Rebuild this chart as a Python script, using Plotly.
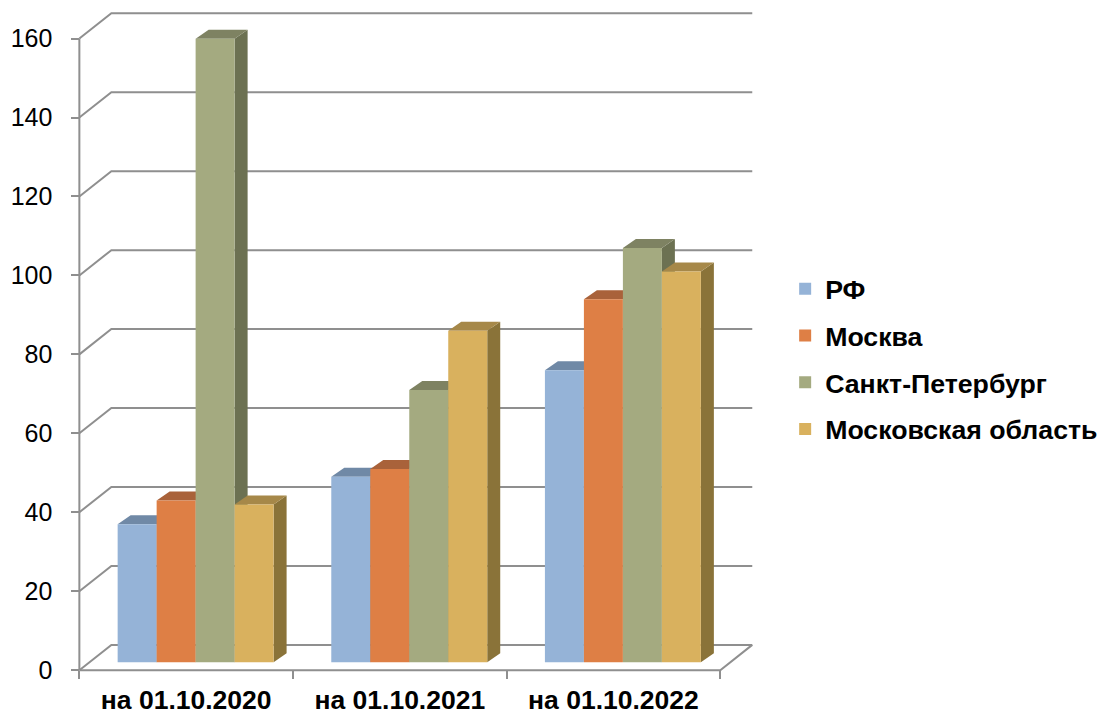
import plotly.graph_objects as go

# ---------------- data ----------------
categories = ["на 01.10.2020", "на 01.10.2021", "на 01.10.2022"]
series_names = ["РФ", "Москва", "Санкт-Петербург", "Московская область"]
rf = [35, 47, 74]
moscow = [41, 49, 92]
spb = [158, 69, 105]
mo = [40, 84, 99]
y_ticks = [0, 20, 40, 60, 80, 100, 120, 140, 160]

series_values = [rf, moscow, spb, mo]

# ---------------- styles ----------------
front_colors = ["#95B3D7", "#DE7F45", "#A4AA80", "#D9B15E"]
top_colors = ["#7089A6", "#A9623A", "#7E8262", "#A68849"]
side_colors = ["#5F7894", "#B5672F", "#6C7152", "#8A7339"]
GRID = "#8F8F8F"
FONT = "Liberation Sans, Arial, sans-serif"

W, H = 1099, 714
PX_X = 213.7      # pixels per category unit
PX_Y = 3.951      # pixels per value unit
X0_PX, Y0_PX = 79, 670.5   # screen position of front-left floor corner
WALL_DX, WALL_DY = 32 / PX_X, 25.3 / PX_Y   # depth of floor / side wall
BAR_DX, BAR_DY = 13 / PX_X, 9 / PX_Y        # depth of each bar
BAR_BASE = 7.8 / PX_Y                       # front plane of bars above floor front edge
BAR_LEFT, BAR_W = -0.3208, 0.1825           # bar front face placement within a category

XMIN, XMAX = -0.6, 2.7
YMIN, YMAX = -3, 168
ml = X0_PX - (-0.5 - XMIN) * PX_X
plot_w = (XMAX - XMIN) * PX_X
mr = W - ml - plot_w
plot_bottom = Y0_PX + (0 - YMIN) * PX_Y
mb = H - plot_bottom
plot_h = (YMAX - YMIN) * PX_Y
mt = H - mb - plot_h

n = len(categories)
xl, xr = -0.5, n - 0.5

fig = go.Figure()

# ---------------- walls / gridlines ----------------
wx, wy = [], []
for v in y_ticks:
    wx += [xl, xl + WALL_DX, xr + WALL_DX, None]
    wy += [v, v + WALL_DY, v + WALL_DY, None]
# floor front and right edges
wx += [xl, xr, xr + WALL_DX, None]
wy += [0, 0, WALL_DY, None]
# front vertical axis line
wx += [xl, xl]
wy += [0, y_ticks[-1]]
fig.add_trace(go.Scatter(x=wx, y=wy, mode="lines", line=dict(color=GRID, width=2),
                         hoverinfo="skip", showlegend=False, xaxis="x", yaxis="y"))

# ---------------- side / top faces (drawn under the front faces) ----------------
for i, vals in enumerate(series_values):
    sx, sy, tx, ty = [], [], [], []
    for k, v in enumerate(vals):
        x0 = k + BAR_LEFT + i * BAR_W
        x1 = x0 + BAR_W
        b = BAR_BASE
        t = BAR_BASE + v
        sx += [x1, x1 + BAR_DX, x1 + BAR_DX, x1, x1, None]
        sy += [b, b + BAR_DY, t + BAR_DY, t, b, None]
        tx += [x0, x0 + BAR_DX, x1 + BAR_DX, x1, x0, None]
        ty += [t, t + BAR_DY, t + BAR_DY, t, t, None]
    fig.add_trace(go.Scatter(x=sx, y=sy, mode="lines", fill="toself", fillcolor=side_colors[i],
                             line=dict(width=0), hoverinfo="skip", showlegend=False,
                             xaxis="x", yaxis="y"))
    fig.add_trace(go.Scatter(x=tx, y=ty, mode="lines", fill="toself", fillcolor=top_colors[i],
                             line=dict(width=0), hoverinfo="skip", showlegend=False,
                             xaxis="x", yaxis="y"))

# ---------------- front faces (real bars, on overlaying axes so they sit on top) ----------------
for i, (name, vals) in enumerate(zip(series_names, series_values)):
    fig.add_trace(go.Bar(
        x=list(range(n)), y=vals, base=BAR_BASE,
        offset=BAR_LEFT + i * BAR_W, width=BAR_W,
        name=name, marker=dict(color=front_colors[i], line=dict(width=0)),
        legendgroup=name, xaxis="x2", yaxis="y2",
    ))

legend_left_px = 785
legend_mid_px = 359
fig.update_layout(
    width=W, height=H,
    margin=dict(l=ml, r=mr, t=mt, b=mb, pad=0, autoexpand=False),
    paper_bgcolor="white", plot_bgcolor="rgba(0,0,0,0)",
    barmode="overlay",
    showlegend=True,
    legend=dict(
        x=(legend_left_px - ml) / plot_w, xanchor="left",
        y=(plot_bottom - legend_mid_px) / plot_h, yanchor="middle",
        font=dict(family=FONT, size=26.7, color="black", weight="bold"),
        traceorder="grouped", tracegroupgap=9,
        bgcolor="rgba(0,0,0,0)",
    ),
    xaxis=dict(
        range=[XMIN, XMAX], anchor="free", position=(0 - YMIN) / (YMAX - YMIN),
        tickmode="array", tickvals=list(range(n)), ticktext=categories, ticks="",
        tickfont=dict(family=FONT, size=26.5, color="black", weight="bold"),
        minor=dict(tickmode="array", tickvals=[xl + j for j in range(n + 1)],
                   ticks="outside", ticklen=8, tickwidth=2, tickcolor=GRID, showgrid=False),
        showgrid=False, zeroline=False, showline=False, ticklabelstandoff=11,
        automargin=False,
    ),
    yaxis=dict(
        range=[YMIN, YMAX], anchor="free", position=(xl - XMIN) / (XMAX - XMIN),
        tickmode="array", tickvals=y_ticks, ticks="outside", ticklen=8, tickwidth=2,
        tickcolor=GRID, tickfont=dict(family=FONT, size=25, color="black"),
        showgrid=False, zeroline=False, showline=False, ticklabelstandoff=14,
        automargin=False,
    ),
    xaxis2=dict(range=[XMIN, XMAX], overlaying="x", anchor="y2", visible=False),
    yaxis2=dict(range=[YMIN, YMAX], overlaying="y", anchor="x2", visible=False),
)

fig.write_html("out.html")
